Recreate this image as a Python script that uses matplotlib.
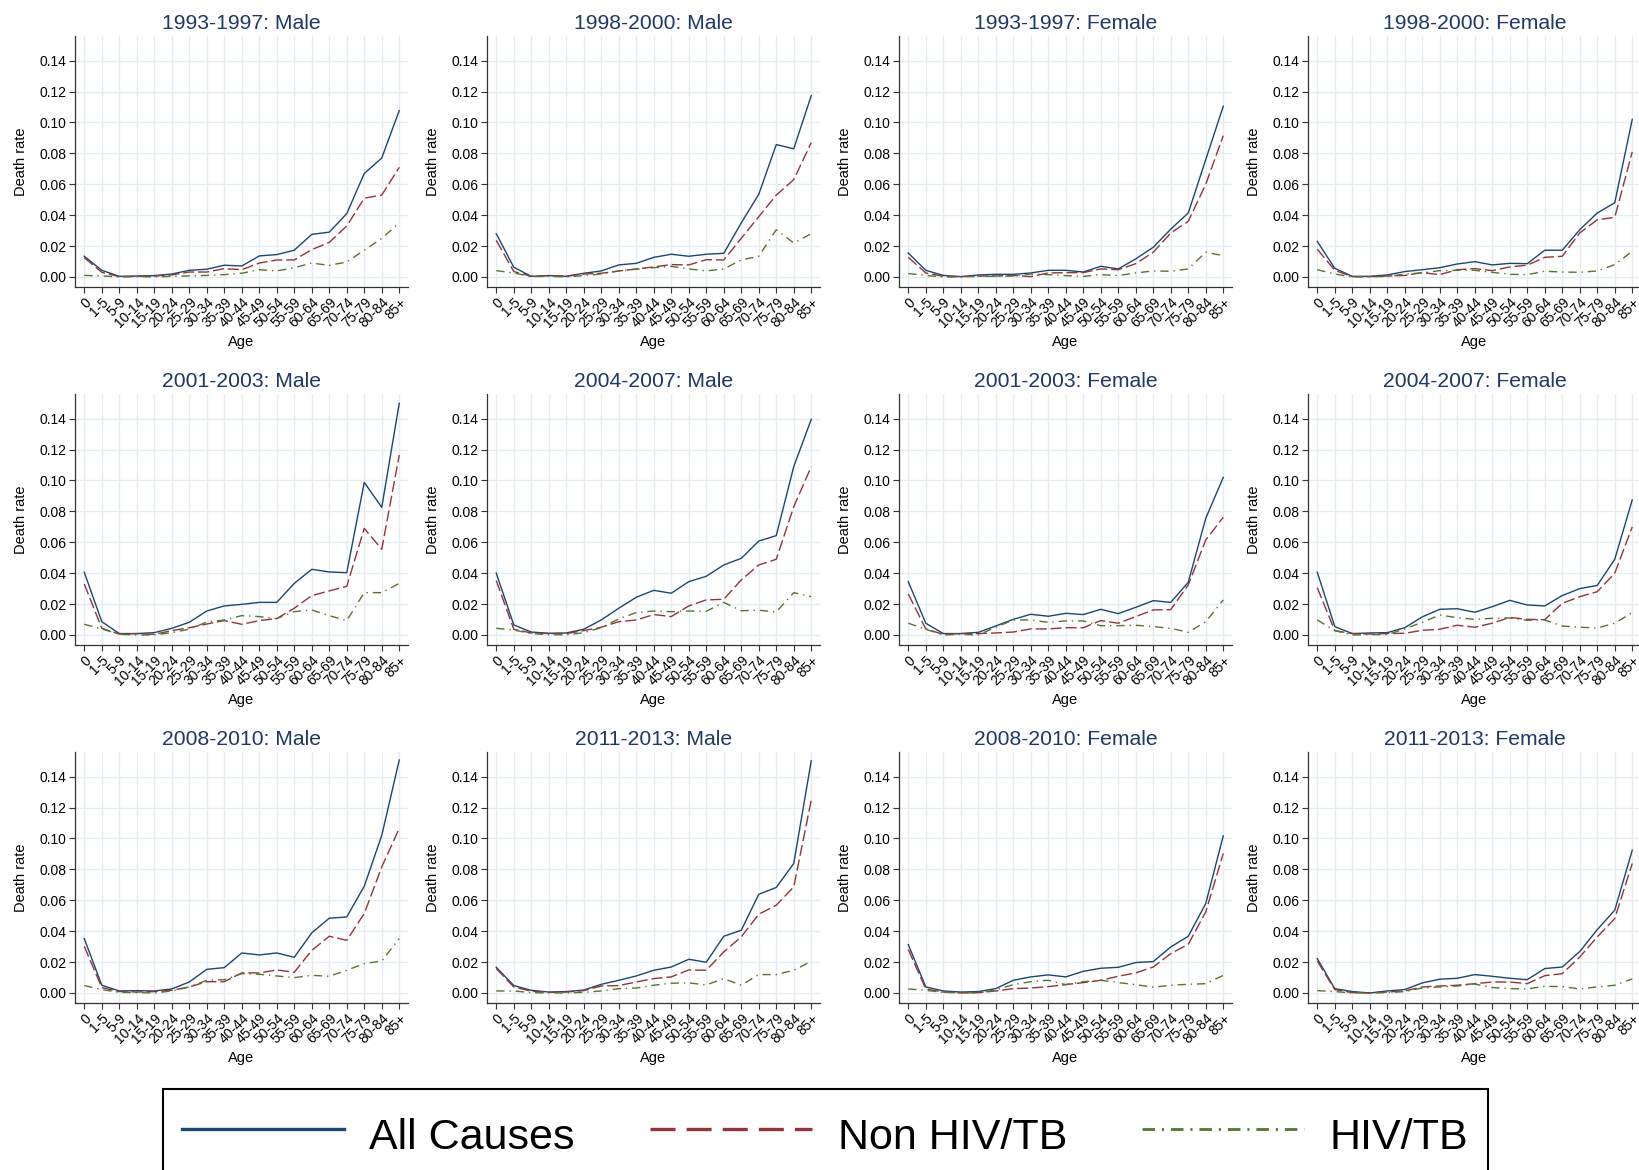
import matplotlib
matplotlib.use('Agg')
import matplotlib.pyplot as plt
from matplotlib.lines import Line2D

plt.rcParams['font.family'] = ['Liberation Sans', 'DejaVu Sans']
plt.rcParams['lines.scale_dashes'] = False

ages = ['0', '1-5', '5-9', '10-14', '15-19', '20-24', '25-29', '30-34', '35-39',
        '40-44', '45-49', '50-54', '55-59', '60-64', '65-69', '70-74', '75-79',
        '80-84', '85+']
y_ticks = [0.00, 0.02, 0.04, 0.06, 0.08, 0.10, 0.12, 0.14]

# death rates by age group: all causes / non HIV-TB / HIV-TB
all_m_9397 = [0.0134, 0.0043, 0.0004, 0.0006, 0.0009, 0.0019, 0.0043, 0.0050, 0.0076, 0.0071, 0.0136, 0.0145, 0.0173, 0.0276, 0.0290, 0.0410, 0.0670, 0.0770, 0.1077]
non_m_9397 = [0.0125, 0.0030, 0.0002, 0.0004, 0.0006, 0.0013, 0.0032, 0.0032, 0.0054, 0.0047, 0.0090, 0.0110, 0.0110, 0.0177, 0.0224, 0.0330, 0.0510, 0.0530, 0.0710]
hiv_m_9397 = [0.0010, 0.0007, 0.0000, 0.0002, 0.0000, 0.0004, 0.0007, 0.0010, 0.0015, 0.0024, 0.0047, 0.0039, 0.0060, 0.0090, 0.0075, 0.0097, 0.0173, 0.0250, 0.0350]

all_m_9800 = [0.0280, 0.0063, 0.0004, 0.0009, 0.0004, 0.0024, 0.0039, 0.0078, 0.0088, 0.0127, 0.0147, 0.0134, 0.0147, 0.0153, 0.0350, 0.0535, 0.0857, 0.0830, 0.1174]
non_m_9800 = [0.0237, 0.0035, 0.0004, 0.0009, 0.0006, 0.0019, 0.0024, 0.0039, 0.0052, 0.0065, 0.0080, 0.0078, 0.0112, 0.0110, 0.0250, 0.0390, 0.0530, 0.0630, 0.0870]
hiv_m_9800 = [0.0041, 0.0026, 0.0002, 0.0004, 0.0000, 0.0009, 0.0019, 0.0039, 0.0050, 0.0060, 0.0069, 0.0052, 0.0039, 0.0052, 0.0110, 0.0134, 0.0306, 0.0220, 0.0280]

all_f_9397 = [0.0155, 0.0043, 0.0010, 0.0002, 0.0013, 0.0017, 0.0017, 0.0026, 0.0043, 0.0043, 0.0032, 0.0069, 0.0052, 0.0117, 0.0192, 0.0310, 0.0414, 0.0760, 0.1105]
non_f_9397 = [0.0127, 0.0026, 0.0004, 0.0002, 0.0006, 0.0006, 0.0010, 0.0002, 0.0026, 0.0028, 0.0028, 0.0052, 0.0047, 0.0086, 0.0160, 0.0285, 0.0360, 0.0600, 0.0915]
hiv_f_9397 = [0.0022, 0.0010, 0.0000, 0.0000, 0.0004, 0.0004, 0.0006, 0.0019, 0.0015, 0.0009, 0.0004, 0.0015, 0.0009, 0.0026, 0.0039, 0.0037, 0.0052, 0.0160, 0.0138]

all_f_9800 = [0.0230, 0.0056, 0.0004, 0.0004, 0.0013, 0.0035, 0.0047, 0.0060, 0.0084, 0.0099, 0.0078, 0.0088, 0.0086, 0.0173, 0.0173, 0.0306, 0.0414, 0.0480, 0.1020]
non_f_9800 = [0.0180, 0.0043, 0.0002, 0.0002, 0.0006, 0.0010, 0.0028, 0.0015, 0.0047, 0.0054, 0.0041, 0.0065, 0.0076, 0.0127, 0.0134, 0.0285, 0.0370, 0.0386, 0.0810]
hiv_f_9800 = [0.0047, 0.0019, 0.0000, 0.0002, 0.0002, 0.0019, 0.0026, 0.0041, 0.0043, 0.0043, 0.0030, 0.0017, 0.0015, 0.0037, 0.0032, 0.0030, 0.0039, 0.0080, 0.0166]

all_m_0103 = [0.0406, 0.0086, 0.0009, 0.0009, 0.0015, 0.0043, 0.0082, 0.0155, 0.0188, 0.0198, 0.0211, 0.0211, 0.0334, 0.0425, 0.0408, 0.0403, 0.0988, 0.0826, 0.1500]
non_m_0103 = [0.0330, 0.0043, 0.0006, 0.0009, 0.0004, 0.0028, 0.0047, 0.0071, 0.0093, 0.0069, 0.0093, 0.0106, 0.0173, 0.0255, 0.0285, 0.0315, 0.0690, 0.0555, 0.1165]
hiv_m_0103 = [0.0069, 0.0039, 0.0004, 0.0000, 0.0000, 0.0015, 0.0037, 0.0084, 0.0097, 0.0125, 0.0119, 0.0106, 0.0151, 0.0162, 0.0125, 0.0093, 0.0274, 0.0274, 0.0334]

all_m_0407 = [0.0400, 0.0065, 0.0019, 0.0011, 0.0013, 0.0037, 0.0097, 0.0173, 0.0244, 0.0289, 0.0270, 0.0345, 0.0380, 0.0453, 0.0496, 0.0608, 0.0643, 0.1090, 0.1396]
non_m_0407 = [0.0352, 0.0037, 0.0013, 0.0009, 0.0009, 0.0028, 0.0050, 0.0086, 0.0097, 0.0132, 0.0119, 0.0188, 0.0227, 0.0231, 0.0356, 0.0453, 0.0490, 0.0830, 0.1090]
hiv_m_0407 = [0.0043, 0.0032, 0.0009, 0.0002, 0.0000, 0.0015, 0.0047, 0.0104, 0.0145, 0.0155, 0.0151, 0.0155, 0.0153, 0.0211, 0.0157, 0.0160, 0.0149, 0.0274, 0.0248]

all_f_0103 = [0.0345, 0.0076, 0.0009, 0.0009, 0.0017, 0.0058, 0.0101, 0.0134, 0.0121, 0.0140, 0.0132, 0.0166, 0.0138, 0.0179, 0.0222, 0.0211, 0.0341, 0.0755, 0.1020]
non_f_0103 = [0.0265, 0.0039, 0.0004, 0.0009, 0.0009, 0.0013, 0.0019, 0.0039, 0.0039, 0.0047, 0.0047, 0.0093, 0.0076, 0.0119, 0.0162, 0.0164, 0.0324, 0.0615, 0.0762]
hiv_f_0103 = [0.0076, 0.0037, 0.0000, 0.0004, 0.0000, 0.0050, 0.0097, 0.0097, 0.0082, 0.0091, 0.0091, 0.0060, 0.0060, 0.0063, 0.0054, 0.0043, 0.0017, 0.0086, 0.0227]

all_f_0407 = [0.0406, 0.0054, 0.0009, 0.0013, 0.0015, 0.0047, 0.0117, 0.0166, 0.0170, 0.0147, 0.0183, 0.0224, 0.0194, 0.0188, 0.0255, 0.0300, 0.0321, 0.0490, 0.0874]
non_f_0407 = [0.0306, 0.0028, 0.0009, 0.0006, 0.0009, 0.0011, 0.0030, 0.0037, 0.0063, 0.0050, 0.0076, 0.0114, 0.0101, 0.0099, 0.0205, 0.0248, 0.0280, 0.0400, 0.0700]
hiv_f_0407 = [0.0097, 0.0028, 0.0000, 0.0002, 0.0002, 0.0039, 0.0082, 0.0129, 0.0112, 0.0101, 0.0108, 0.0110, 0.0095, 0.0097, 0.0058, 0.0050, 0.0045, 0.0076, 0.0145]

all_m_0810 = [0.0352, 0.0050, 0.0013, 0.0015, 0.0013, 0.0026, 0.0071, 0.0153, 0.0164, 0.0259, 0.0246, 0.0259, 0.0231, 0.0389, 0.0484, 0.0492, 0.0691, 0.1020, 0.1508]
non_m_0810 = [0.0302, 0.0035, 0.0009, 0.0006, 0.0009, 0.0017, 0.0039, 0.0073, 0.0073, 0.0130, 0.0130, 0.0149, 0.0134, 0.0276, 0.0367, 0.0341, 0.0514, 0.0816, 0.1065]
hiv_m_0810 = [0.0048, 0.0022, 0.0004, 0.0002, 0.0000, 0.0013, 0.0039, 0.0082, 0.0086, 0.0125, 0.0121, 0.0110, 0.0099, 0.0114, 0.0108, 0.0147, 0.0190, 0.0207, 0.0352]

all_m_1113 = [0.0166, 0.0048, 0.0017, 0.0006, 0.0009, 0.0019, 0.0056, 0.0082, 0.0110, 0.0147, 0.0168, 0.0218, 0.0199, 0.0367, 0.0406, 0.0639, 0.0683, 0.0838, 0.1503]
non_m_1113 = [0.0158, 0.0039, 0.0011, 0.0004, 0.0006, 0.0015, 0.0045, 0.0048, 0.0071, 0.0093, 0.0104, 0.0149, 0.0147, 0.0266, 0.0363, 0.0510, 0.0568, 0.0687, 0.1248]
hiv_m_1113 = [0.0013, 0.0013, 0.0002, 0.0000, 0.0000, 0.0004, 0.0013, 0.0028, 0.0032, 0.0050, 0.0063, 0.0065, 0.0052, 0.0093, 0.0050, 0.0119, 0.0119, 0.0147, 0.0205]

all_f_0810 = [0.0313, 0.0039, 0.0013, 0.0006, 0.0009, 0.0028, 0.0082, 0.0104, 0.0117, 0.0104, 0.0140, 0.0160, 0.0166, 0.0197, 0.0203, 0.0298, 0.0367, 0.0579, 0.1017]
non_f_0810 = [0.0281, 0.0026, 0.0006, 0.0000, 0.0002, 0.0013, 0.0028, 0.0032, 0.0041, 0.0054, 0.0067, 0.0082, 0.0108, 0.0130, 0.0168, 0.0255, 0.0315, 0.0525, 0.0903]
hiv_f_0810 = [0.0026, 0.0017, 0.0004, 0.0002, 0.0000, 0.0019, 0.0054, 0.0073, 0.0082, 0.0054, 0.0073, 0.0082, 0.0067, 0.0054, 0.0037, 0.0050, 0.0056, 0.0060, 0.0114]

all_f_1113 = [0.0222, 0.0028, 0.0009, 0.0000, 0.0013, 0.0022, 0.0065, 0.0089, 0.0095, 0.0119, 0.0108, 0.0095, 0.0086, 0.0158, 0.0168, 0.0268, 0.0410, 0.0536, 0.0924]
non_f_1113 = [0.0207, 0.0022, 0.0002, 0.0000, 0.0006, 0.0013, 0.0039, 0.0045, 0.0050, 0.0060, 0.0071, 0.0071, 0.0060, 0.0112, 0.0125, 0.0233, 0.0363, 0.0482, 0.0838]
hiv_f_1113 = [0.0015, 0.0009, 0.0000, 0.0000, 0.0002, 0.0009, 0.0032, 0.0039, 0.0045, 0.0058, 0.0035, 0.0028, 0.0026, 0.0043, 0.0041, 0.0026, 0.0039, 0.0050, 0.0091]

panels = [
    ('1993-1997: Male', all_m_9397, non_m_9397, hiv_m_9397),
    ('1998-2000: Male', all_m_9800, non_m_9800, hiv_m_9800),
    ('1993-1997: Female', all_f_9397, non_f_9397, hiv_f_9397),
    ('1998-2000: Female', all_f_9800, non_f_9800, hiv_f_9800),
    ('2001-2003: Male', all_m_0103, non_m_0103, hiv_m_0103),
    ('2004-2007: Male', all_m_0407, non_m_0407, hiv_m_0407),
    ('2001-2003: Female', all_f_0103, non_f_0103, hiv_f_0103),
    ('2004-2007: Female', all_f_0407, non_f_0407, hiv_f_0407),
    ('2008-2010: Male', all_m_0810, non_m_0810, hiv_m_0810),
    ('2011-2013: Male', all_m_1113, non_m_1113, hiv_m_1113),
    ('2008-2010: Female', all_f_0810, non_f_0810, hiv_f_0810),
    ('2011-2013: Female', all_f_1113, non_f_1113, hiv_f_1113),
]

navy = '#1a476f'
maroon = '#90353b'
green = '#55752f'
grid_col = '#e4eef0'
title_col = '#1f3864'

W, H = 1639, 1170
fig = plt.figure(figsize=(W / 100, H / 100), dpi=100)
fig.patch.set_facecolor('white')

col_left = [75, 487, 899, 1308]
row_top = [36, 394, 752]
ax_w, ax_h = 333, 251
x = list(range(len(ages)))

for i, (title, a, n, h) in enumerate(panels):
    r, c = divmod(i, 4)
    ax = fig.add_axes([col_left[c] / W, 1 - (row_top[r] + ax_h) / H, ax_w / W, ax_h / H])
    ax.plot(x, a, color=navy, lw=1.0)
    ax.plot(x, n, color=maroon, lw=1.0, dashes=(8, 2.8))
    ax.plot(x, h, color=green, lw=1.0, dashes=(6, 3.5, 1, 3.5))

    ax.set_xlim(-0.53, 18.5)
    ax.set_ylim(-0.0065, 0.156)
    ax.set_xticks(x)
    ax.set_xticklabels(ages, rotation=45, ha='right', rotation_mode='anchor', fontsize=10)
    ax.set_yticks(y_ticks)
    ax.set_yticklabels(['%.2f' % v for v in y_ticks], fontsize=10)
    ax.set_axisbelow(True)
    ax.grid(True, color=grid_col, lw=1.0)
    for s in ('top', 'right'):
        ax.spines[s].set_visible(False)
    for s in ('left', 'bottom'):
        ax.spines[s].set_color('#333333')
        ax.spines[s].set_linewidth(0.9)
    ax.tick_params(direction='out', length=4, width=0.8, color='#333333', pad=2)
    ax.set_xlabel('Age', fontsize=10.5, labelpad=3)
    ax.set_ylabel('Death rate', fontsize=10.5, labelpad=8)
    ax.set_title(title, fontsize=15.2, color=title_col, pad=5)

handles = [
    Line2D([], [], color=navy, lw=2.4),
    Line2D([], [], color=maroon, lw=2.4, dashes=(18, 8)),
    Line2D([], [], color=green, lw=2.0, dashes=(9, 5, 1.5, 5)),
]
leg = fig.legend(handles, ['All Causes', 'Non HIV/TB', 'HIV/TB'],
                 loc='upper center', bbox_to_anchor=(0.5035, 1 - 1089 / H),
                 borderaxespad=0, ncol=3, fontsize=31, frameon=True,
                 fancybox=False, edgecolor='black', framealpha=1,
                 borderpad=0.45, handleheight=1.55, handlelength=3.75,
                 handletextpad=0.6, columnspacing=1.75)
leg.get_frame().set_linewidth(1.5)

fig.savefig('out.png', dpi=100)
